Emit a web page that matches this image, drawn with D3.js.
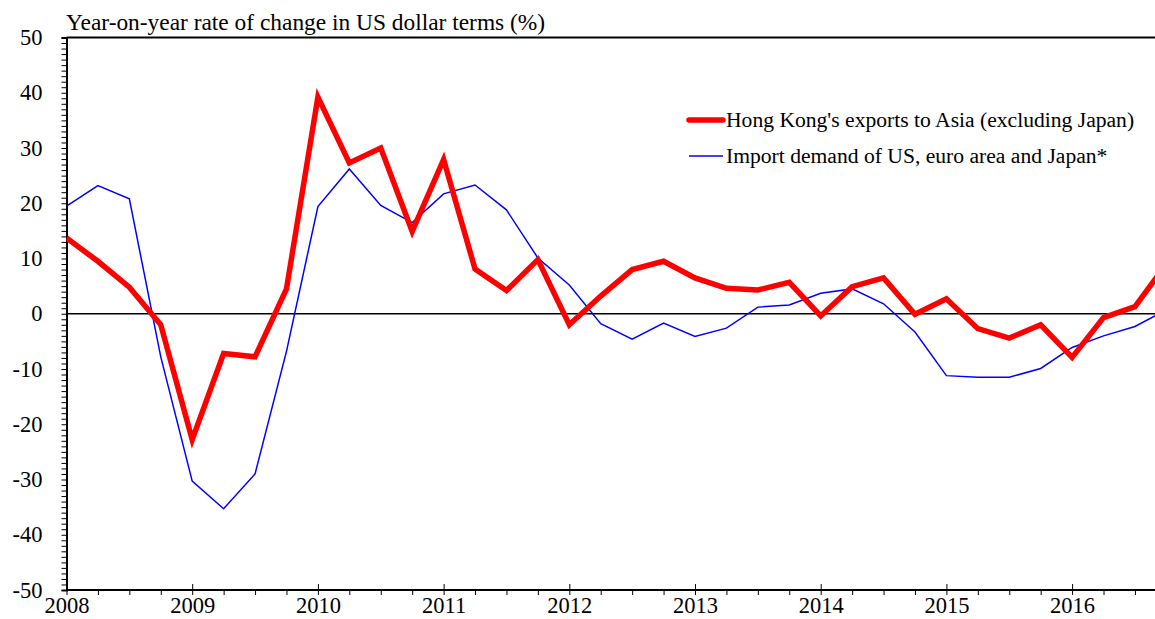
<!DOCTYPE html>
<html>
<head>
<meta charset="utf-8">
<script src="https://cdn.jsdelivr.net/npm/d3@7"></script>
<style>
  body { margin: 0; background: #fff; }
  svg { display: block; font-family: "Liberation Serif", "Times New Roman", serif; }
</style>
</head>
<body>
<div class="chart"></div>
<script>
const width = 1155;
const height = 619;

// quarterly data, 2008 Q1 onwards
const startYear = 2008;
const hkExports = [13.7, 9.5, 4.8, -2.0, -22.8, -7.2, -7.8, 4.5,
   39.2, 27.3, 30.0, 14.9, 27.9, 8.1, 4.2, 9.8,
   -2.0, 3.2, 8.0, 9.5, 6.5, 4.6, 4.3, 5.7,
   -0.4, 4.9, 6.5, -0.1, 2.7, -2.7, -4.4, -2.0,
   -7.9, -0.7, 1.3, 9.0];
const importDemand = [19.5, 23.2, 20.8, -7.8, -30.3, -35.3, -29.0, -6.8,
   19.4, 26.2, 19.6, 16.5, 21.7, 23.3, 18.8, 10.1,
   5.2, -1.8, -4.6, -1.7, -4.1, -2.6, 1.2, 1.6,
   3.7, 4.5, 1.8, -3.3, -11.2, -11.5, -11.5, -9.9,
   -6.1, -4.0, -2.3, 0.7];
const years = [2008, 2009, 2010, 2011, 2012, 2013, 2014, 2015, 2016];
const yTicks = [-50, -40, -30, -20, -10, 0, 10, 20, 30, 40, 50];
const seriesNames = ["Hong Kong's exports to Asia (excluding Japan)",
   "Import demand of US, euro area and Japan*"];

const plotLeft = 66.5;
const plotRight = 1155;
const plotTop = 37.5;
const plotBottom = 590;

const x = d3.scaleLinear().domain([2008, 2017]).range([plotLeft, plotLeft + 9 * 125.7]);
const y = d3.scaleLinear().domain([-50, 50]).range([plotBottom, plotTop]);

const svg = d3.select(".chart")
   .append("svg")
   .attr("width", width)
   .attr("height", height);

svg.append("defs").append("clipPath")
   .attr("id", "plot-clip")
   .append("rect")
   .attr("x", plotLeft)
   .attr("y", 0)
   .attr("width", plotRight - plotLeft)
   .attr("height", height);

// title
svg.append("text")
   .attr("x", 66)
   .attr("y", 30)
   .attr("font-size", 23.4)
   .attr("fill", "#000")
   .text("Year-on-year rate of change in US dollar terms (%)");

// y axis: minor ticks every 1, labels every 10
const yAxis = d3.axisLeft(y)
   .tickValues(d3.range(-50, 51, 1))
   .tickSize(5)
   .tickFormat(d => (yTicks.includes(d) ? d : ""));

const gy = svg.append("g")
   .attr("transform", `translate(${plotLeft},0)`)
   .call(yAxis);
gy.select(".domain").attr("stroke-width", 2);
gy.selectAll(".tick line").attr("stroke", "#000").attr("stroke-width", 1);
gy.selectAll(".tick text")
   .attr("x", -24)
   .attr("font-size", 22.5)
   .attr("fill", "#000")
   .attr("font-family", "Liberation Serif, serif");

// x axis: quarter ticks and year ticks
const quarters = d3.range(0, 36).map(i => startYear + i / 4);
const xMinor = d3.axisBottom(x)
   .tickValues(quarters.filter(q => q % 1 !== 0))
   .tickSize(5)
   .tickFormat("");
const gxMinor = svg.append("g")
   .attr("transform", `translate(0,${plotBottom})`)
   .call(xMinor);
gxMinor.select(".domain").remove();
gxMinor.selectAll(".tick line").attr("stroke", "#000");

const xMajor = d3.axisBottom(x)
   .tickValues(years)
   .tickSize(5)
   .tickFormat(d3.format("d"));
const gx = svg.append("g")
   .attr("transform", `translate(0,${plotBottom})`)
   .call(xMajor);
gx.select(".domain").remove();
gx.selectAll(".tick line").attr("y1", -6).attr("stroke", "#000");
gx.selectAll(".tick text")
   .attr("y", 7)
   .attr("font-size", 22.5)
   .attr("fill", "#000")
   .attr("font-family", "Liberation Serif, serif");

// frame lines: bottom axis, top border
svg.append("line")
   .attr("x1", plotLeft).attr("x2", plotRight)
   .attr("y1", y(-50)).attr("y2", y(-50))
   .attr("stroke", "#000").attr("stroke-width", 2);
svg.append("line")
   .attr("x1", plotLeft).attr("x2", plotRight)
   .attr("y1", y(50)).attr("y2", y(50))
   .attr("stroke", "#000").attr("stroke-width", 2);

// zero line
svg.append("line")
   .attr("x1", plotLeft).attr("x2", plotRight)
   .attr("y1", y(0)).attr("y2", y(0))
   .attr("stroke", "#000").attr("stroke-width", 1.5);

const line = d3.line()
   .x((d, i) => x(startYear + i / 4))
   .y(d => y(d));

const plot = svg.append("g").attr("clip-path", "url(#plot-clip)");

plot.append("path")
   .datum(importDemand)
   .attr("fill", "none")
   .attr("stroke", "#0000ff")
   .attr("stroke-width", 1.5)
   .attr("d", line);

plot.append("path")
   .datum(hkExports)
   .attr("fill", "none")
   .attr("stroke", "#ff0000")
   .attr("stroke-width", 5.5)
   .attr("stroke-linejoin", "miter")
   .attr("d", line);

// legend
const legend = svg.append("g").attr("transform", "translate(689,120)");
const legendItems = legend.selectAll("g")
   .data(seriesNames)
   .enter()
   .append("g")
   .attr("transform", (d, i) => `translate(0,${i * 36})`);

legendItems.append("line")
   .attr("x1", 0).attr("x2", 34)
   .attr("stroke", (d, i) => (i === 0 ? "#ff0000" : "#0000ff"))
   .attr("stroke-width", (d, i) => (i === 0 ? 5.5 : 1.5))
   .attr("stroke-linecap", (d, i) => (i === 0 ? "round" : "butt"));

legendItems.append("text")
   .attr("x", 37)
   .attr("y", 7)
   .attr("font-size", 21.6)
   .attr("fill", "#000")
   .text(d => d);
</script>
</body>
</html>
